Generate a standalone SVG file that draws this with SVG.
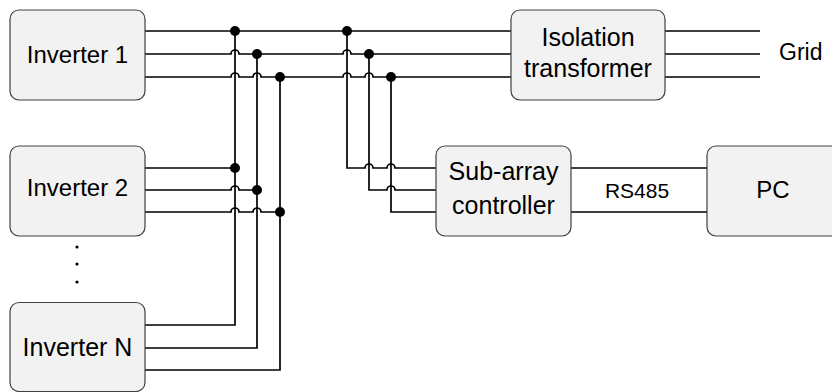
<svg xmlns="http://www.w3.org/2000/svg" width="832" height="392" viewBox="0 0 832 392">
<style>
.box{fill:#f2f2f2;stroke:#404040;stroke-width:1.2}
.w{fill:none;stroke:#000;stroke-width:1.7}
.dot{fill:#000}
text{font-family:"Liberation Sans",Arial,sans-serif;fill:#000;text-anchor:middle}
.big{font-size:24px}
.mid{font-size:25px}
.rs{font-size:21px}
.grid{font-size:23px;text-anchor:start}
</style>
<rect width="832" height="392" fill="#fff"/>
<g id="connectors">
<path class="w" d="M145,31 H511"/>
<path class="w" d="M145,54 H231 A4,4 0 0 1 239,54 H343 A4,4 0 0 1 351,54 H511"/>
<path class="w" d="M145,77 H231 A4,4 0 0 1 239,77 H253 A4,4 0 0 1 261,77 H343 A4,4 0 0 1 351,77 H365 A4,4 0 0 1 373,77 H511"/>
<path class="w" d="M145,168 H235"/>
<path class="w" d="M145,190 H231 A4,4 0 0 1 239,190 H257"/>
<path class="w" d="M145,212 H231 A4,4 0 0 1 239,212 H253 A4,4 0 0 1 261,212 H280"/>
<path class="w" d="M145,325 H235 V31"/>
<path class="w" d="M145,348 H257 V54"/>
<path class="w" d="M145,370 H280 V77"/>
<path class="w" d="M347,31 V168 H365 A4,4 0 0 1 373,168 H387 A4,4 0 0 1 395,168 H436"/>
<path class="w" d="M369,54 V190 H387 A4,4 0 0 1 395,190 H436"/>
<path class="w" d="M391,77 V212 H436"/>
<path class="w" d="M571,168 H707 M571,212 H707"/>
<path class="w" d="M665,31 H760 M665,54 H760 M665,77 H760"/>
<circle class="dot" cx="235" cy="31" r="5"/>
<circle class="dot" cx="257" cy="54" r="5"/>
<circle class="dot" cx="280" cy="77" r="5"/>
<circle class="dot" cx="347" cy="31" r="5"/>
<circle class="dot" cx="369" cy="54" r="5"/>
<circle class="dot" cx="391" cy="77" r="5"/>
<circle class="dot" cx="235" cy="168" r="5"/>
<circle class="dot" cx="257" cy="190" r="5"/>
<circle class="dot" cx="280" cy="212" r="5"/>
<text class="rs" x="637" y="197.5">RS485</text>
</g>
<g id="inverter1">
<rect class="box" x="10" y="10" width="135" height="90" rx="9"/>
<text class="big" x="77.5" y="62.5">Inverter 1</text>
</g>
<g id="inverter2">
<rect class="box" x="10" y="146" width="135" height="90" rx="9"/>
<text class="big" x="77.5" y="196">Inverter 2</text>
</g>
<g id="ellipsis">
<circle class="dot" cx="77" cy="247" r="1.6"/>
<circle class="dot" cx="77" cy="264" r="1.6"/>
<circle class="dot" cx="77" cy="282" r="1.6"/>
</g>
<g id="inverterN">
<rect class="box" x="10" y="302.5" width="135" height="89" rx="9"/>
<text class="big" x="77.5" y="356" style="font-size:25px">Inverter N</text>
</g>
<g id="transformer">
<rect class="box" x="511" y="10" width="154" height="90" rx="9"/>
<text class="mid" x="588" y="46">Isolation</text>
<text class="mid" x="588" y="76.5">transformer</text>
</g>
<g id="controller">
<rect class="box" x="436" y="146" width="135" height="90" rx="9"/>
<text class="mid" x="503.5" y="179.5">Sub-array</text>
<text class="mid" x="503.5" y="213.5">controller</text>
</g>
<g id="pc">
<rect class="box" x="707" y="146" width="140" height="90" rx="9"/>
<text class="big" x="773" y="198">PC</text>
</g>
<g id="grid">
<text class="grid" x="779" y="60">Grid</text>
</g>
</svg>
